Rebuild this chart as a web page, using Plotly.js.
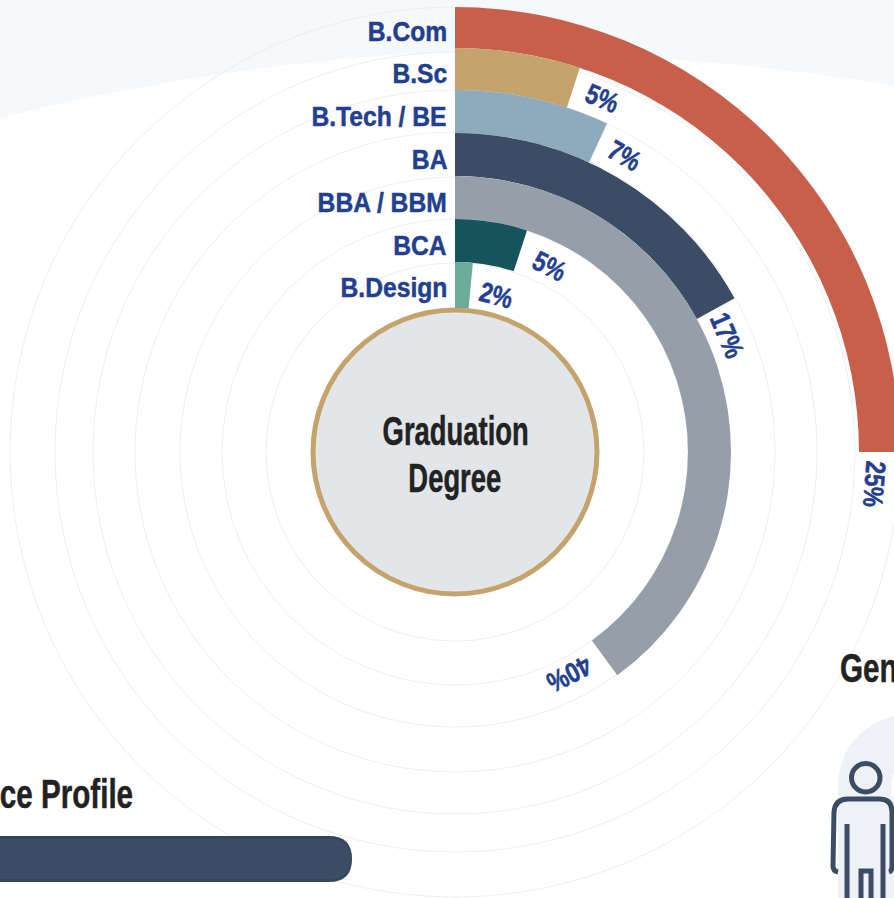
<!DOCTYPE html>
<html><head><meta charset="utf-8">
<script src="https://cdn.plot.ly/plotly-3.0.1.min.js"></script>
<style>html,body{margin:0;padding:0;width:894px;height:898px;overflow:hidden;background:#fff}#c{width:910px;height:904px}</style>
</head><body><div id="c"></div>
<script>
const categories=["B.Com","B.Sc","B.Tech / BE","BA","BBA / BBM","BCA","B.Design"];
const shares=[25,5,6.9,17,40,5,1.5];
const shareLabels=["25%","5%","7%","17%","40%","5%","2%"];
const colors=["#c85f4b","#c5a36c","#8eaabd","#3a4d64","#949fa9","#14545a","#6bab9a"];
const bandInner=[404,362,319,276,233,190,144];
const bandOuter=[445,404,362,319,276,233,190];
const ringRadii=[189,233,275,320,362,400,445];
const labelRadius=[420,383,341,296,250,208,162];
const labelArc=[32,31,29,29,38,33,27];
const W=910,H=904,CX=455,CY=452,ROUT=446,RIN=144;
const font="'Liberation Sans',Arial,sans-serif";
const navy='#3a4d64',ink='#222222',blue='#233f8f';
const px=x=>x/W, py=y=>1-y/H;
const deg=s=>s*3.6;
const anns=[],squeeze=[],side=[];
function note(text,x,y,xanchor,size,color,f,angle){
  anns.push({xref:'paper',yref:'paper',x:px(x),y:py(y),xanchor:xanchor,yanchor:'middle',showarrow:false,textangle:angle||0,text:text,font:{family:font,size:size,color:color,weight:700}});
  squeeze.push(f);side.push(xanchor);
}
categories.forEach((c,i)=>{
  note(c,449,31+42.8*i,'right',28,blue,0.88);
  const r=labelRadius[i];
  const a=deg(shares[i])+labelArc[i]/r*180/Math.PI;
  const t=a*Math.PI/180;
  note(shareLabels[i],CX+r*Math.sin(t),CY-r*Math.cos(t),'center',28,blue,0.82,a);
});
note('Graduation',CX,431,'center',40,ink,0.685);
note('Degree',CX,478,'center',40,ink,0.685);
note('ce Profile',135,794,'right',40,ink,0.74);
note('Gender',838,668,'left',40,ink,0.74);
const data=[{type:'barpolar',r:bandOuter.map((o,i)=>o-bandInner[i]),base:bandInner,theta:shares.map(s=>deg(s)/2),width:shares.map(deg),marker:{color:colors,line:{width:0}},hoverinfo:'skip'}];
const stroke={color:navy,width:5};
const p=(x,y)=>px(x)+' '+py(y);
const layout={width:W,height:H,margin:{l:0,r:0,t:0,b:0},paper_bgcolor:'#fff',showlegend:false,
 polar:{domain:{x:[(CX-ROUT)/W,(CX+ROUT)/W],y:[(CY-ROUT)/H,(CY+ROUT)/H]},hole:RIN/ROUT,bgcolor:'rgba(0,0,0,0)',
  radialaxis:{range:[RIN,ROUT],tickvals:ringRadii,showticklabels:false,ticks:'',showline:false,gridcolor:'#eeeeee',gridwidth:1},
  angularaxis:{rotation:90,direction:'clockwise',showticklabels:false,ticks:'',showline:false,showgrid:false}},
 annotations:anns,
 shapes:[
  {type:'path',layer:'below',xref:'paper',yref:'paper',path:`M ${p(0,0)} L ${p(910,0)} L ${p(910,89)} C ${p(800,68)} ${p(640,52)} ${p(480,52)} C ${p(340,52)} ${p(150,80)} ${p(0,118)} Z`,fillcolor:'#f5f9fc',line:{width:0}},
  {type:'circle',xref:'paper',yref:'paper',x0:px(CX-RIN+2),x1:px(CX+RIN-2),y0:py(CY-RIN+2),y1:py(CY+RIN-2),fillcolor:'#e3e6e9',line:{color:'#c5a36c',width:5}},
  {type:'path',xref:'paper',yref:'paper',path:`M ${p(0,836)} L ${p(329,836)} Q ${p(352,836)} ${p(352,859)} Q ${p(352,882)} ${p(329,882)} L ${p(0,882)} Z`,fillcolor:'#33455b',line:{width:0}},
  {type:'path',xref:'paper',yref:'paper',path:`M ${p(0,839)} L ${p(329,839)} Q ${p(351,839)} ${p(351,859)} Q ${p(351,879)} ${p(329,879)} L ${p(0,879)} Z`,fillcolor:navy,line:{width:0}},
  {type:'path',layer:'below',xref:'paper',yref:'paper',path:`M ${p(838,904)} L ${p(838,790)} Q ${p(838,725)} ${p(910,712)} L ${p(910,904)} Z`,fillcolor:'#eef1f5',line:{width:0}},
  {type:'path',layer:'below',xref:'paper',yref:'paper',path:`M ${p(896,768)} Q ${p(891,775)} ${p(891,796)} L ${p(896,796)} Z`,fillcolor:'#ffffff',line:{width:0}},
  {type:'circle',xref:'paper',yref:'paper',x0:px(851.5),x1:px(880),y0:py(763.5),y1:py(792),line:stroke},
  {type:'path',xref:'paper',yref:'paper',path:`M ${p(838,872)} Q ${p(833,871)} ${p(833,866)} L ${p(834,812)} Q ${p(835,799)} ${p(848,799)} L ${p(880,799)} Q ${p(892,799)} ${p(892,812)} L ${p(892,866)} Q ${p(892,871)} ${p(889,872)}`,line:stroke},
  {type:'path',xref:'paper',yref:'paper',path:`M ${p(847,824)} L ${p(847,904)}`,line:stroke},
  {type:'path',xref:'paper',yref:'paper',path:`M ${p(883,824)} L ${p(883,904)}`,line:stroke},
  {type:'path',xref:'paper',yref:'paper',path:`M ${p(861,904)} L ${p(861,871)} L ${p(871,871)} L ${p(871,904)}`,line:stroke}
 ]};
Plotly.newPlot('c',data,layout,{displayModeBar:false,staticPlot:true}).then(()=>{
  document.querySelectorAll('.annotation').forEach(g=>{
    const i=+g.getAttribute('data-index');
    const t=g.querySelector('text.annotation-text');
    if(!t)return;
    const m=t.getComputedTextLength(),w=m*squeeze[i];
    t.setAttribute('textLength',w);
    t.setAttribute('lengthAdjust','spacingAndGlyphs');
    const dx=side[i]==='right'?(m-w)/2:side[i]==='left'?-(m-w)/2:0;
    t.setAttribute('x',(+t.getAttribute('x')||0)+dx);
    t.style.stroke=anns[i].font.color;
    t.style.strokeWidth='0.5px';
  });
});
</script></body></html>
